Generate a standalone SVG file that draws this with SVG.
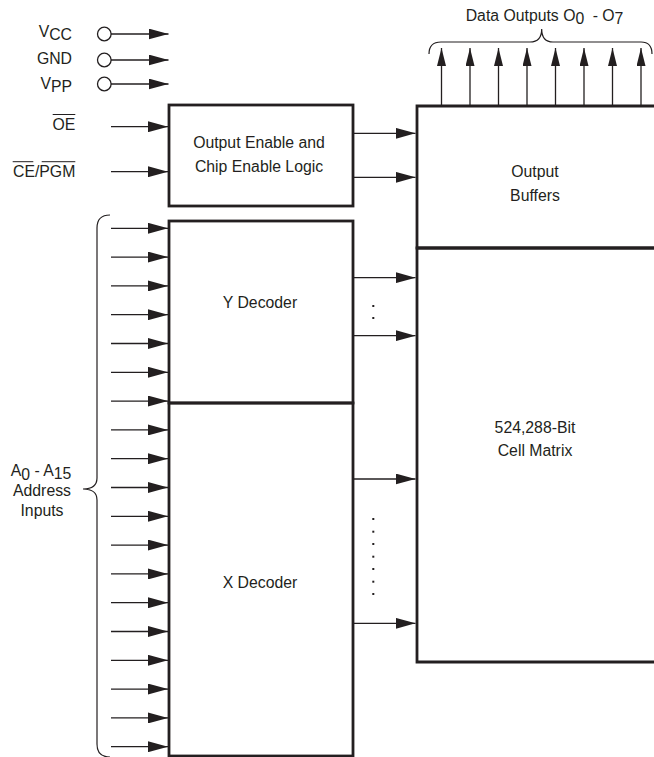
<svg xmlns="http://www.w3.org/2000/svg" width="654" height="757" viewBox="0 0 654 757">
<style>
text{font-family:"Liberation Sans",Arial,Helvetica,sans-serif;font-size:15.8px;fill:#231f20}
.box{fill:none;stroke:#231f20;stroke-width:2.8}
.ln{fill:none;stroke:#231f20;stroke-width:1.3}
.ar{fill:none;stroke:#231f20;stroke-width:1.3;marker-end:url(#ah)}
.au{fill:none;stroke:#231f20;stroke-width:1.3;marker-end:url(#ahv)}
.br{fill:none;stroke:#231f20;stroke-width:1.2}
.c{text-anchor:middle}
.e{text-anchor:end}
.dot{fill:#231f20}
</style>
<defs>
<marker id="ah" markerUnits="userSpaceOnUse" markerWidth="20" markerHeight="11" refX="20" refY="5.5" orient="auto"><path d="M0,0 L20,5.5 L0,11 z" fill="#231f20"/></marker>
<marker id="ahv" markerUnits="userSpaceOnUse" markerWidth="18" markerHeight="9" refX="18" refY="4.5" orient="auto"><path d="M0,0 L18,4.5 L0,9 z" fill="#231f20"/></marker>
</defs>
<rect width="654" height="757" fill="#fff"/>

<g id="power-labels">
<text class="e" x="72" y="37">V<tspan dy="3">CC</tspan></text>
<text class="e" x="72" y="64">GND</text>
<text class="e" x="72" y="89">V<tspan dy="3">PP</tspan></text>
<circle cx="104.3" cy="34" r="6.8" fill="#fff" stroke="#231f20" stroke-width="1.3"/>
<circle cx="104.3" cy="60" r="6.8" fill="#fff" stroke="#231f20" stroke-width="1.3"/>
<circle cx="104.3" cy="84" r="6.8" fill="#fff" stroke="#231f20" stroke-width="1.3"/>
</g>
<g id="control-labels">
<text class="e" x="75.3" y="130">OE</text>
<line x1="52.7" y1="114.5" x2="75.3" y2="114.5" stroke="#231f20" stroke-width="1"/>
<text class="e" x="75.3" y="176.7">CE/PGM</text>
<line x1="12.7" y1="161.7" x2="33.3" y2="161.7" stroke="#231f20" stroke-width="1"/>
<line x1="41.7" y1="161.7" x2="75.3" y2="161.7" stroke="#231f20" stroke-width="1"/>
</g>
<g id="address-label">
<text class="c" x="41" y="476">A<tspan dy="4">0</tspan><tspan dy="-4"> - A</tspan><tspan dy="3">15</tspan></text>
<text class="c" x="42" y="496">Address</text>
<text class="c" x="42" y="516">Inputs</text>
<path class="br" d="M110,215 Q97,215 97,228 L97,478 Q97,489 83,489 Q97,489 97,500 L97,744 Q97,757 110,757"/>
</g>
<g id="data-label">
<text x="465.7" y="21">Data Outputs O<tspan dy="3">0</tspan><tspan dy="-3" dx="4">  - O</tspan><tspan dy="3">7</tspan></text>
<path class="br" d="M429,54 Q429,42 441,42 L530,42 Q541.7,42 541.7,29 Q541.7,42 553,42 L641,42 Q652,42 652,54"/>
</g>

<g id="logic">
<rect class="box" x="169" y="105" width="184" height="101"/>
<text class="c" x="259" y="148.3">Output Enable and</text>
<text class="c" x="259" y="171.7">Chip Enable Logic</text>
</g>
<g id="ydecoder">
<rect class="box" x="169" y="221" width="184" height="182"/>
<text class="c" x="260" y="308">Y Decoder</text>
</g>
<g id="xdecoder">
<rect class="box" x="169" y="403" width="184" height="353"/>
<text class="c" x="260" y="588">X Decoder</text>
</g>
<g id="outbuffers">
<path class="box" d="M670,106 L417,106 L417,248 L670,248"/>
<text class="c" x="535" y="177">Output</text>
<text class="c" x="535" y="201">Buffers</text>
</g>
<g id="matrix">
<path class="box" d="M670,248 L417,248 L417,662 L670,662"/>
<text class="c" x="535" y="433">524,288-Bit</text>
<text class="c" x="535" y="456">Cell Matrix</text>
</g>

<g id="connectors">
<line class="ar" x1="111" y1="34" x2="168.5" y2="34"/>
<line class="ar" x1="111" y1="60" x2="168.5" y2="60"/>
<line class="ar" x1="111" y1="84" x2="168.5" y2="84"/>
<line class="ar" x1="111" y1="126.7" x2="168" y2="126.7"/>
<line class="ar" x1="111" y1="171.7" x2="168" y2="171.7"/>
<line class="ar" x1="353" y1="133.3" x2="415.5" y2="133.3"/>
<line class="ar" x1="353" y1="177.3" x2="415.5" y2="177.3"/>
<line class="ar" x1="353" y1="277.7" x2="415.5" y2="277.7"/>
<line class="ar" x1="353" y1="335.7" x2="415.5" y2="335.7"/>
<line class="ar" x1="353" y1="479" x2="415.5" y2="479"/>
<line class="ar" x1="353" y1="623.3" x2="415.5" y2="623.3"/>
<g id="address-arrows">
<line class="ar" x1="111" y1="228.3" x2="168" y2="228.3"/>
<line class="ar" x1="111" y1="257.1" x2="168" y2="257.1"/>
<line class="ar" x1="111" y1="285.9" x2="168" y2="285.9"/>
<line class="ar" x1="111" y1="314.7" x2="168" y2="314.7"/>
<line class="ar" x1="111" y1="343.5" x2="168" y2="343.5"/>
<line class="ar" x1="111" y1="372.3" x2="168" y2="372.3"/>
<line class="ar" x1="111" y1="401.1" x2="168" y2="401.1"/>
<line class="ar" x1="111" y1="429.9" x2="168" y2="429.9"/>
<line class="ar" x1="111" y1="458.7" x2="168" y2="458.7"/>
<line class="ar" x1="111" y1="487.5" x2="168" y2="487.5"/>
<line class="ar" x1="111" y1="516.3" x2="168" y2="516.3"/>
<line class="ar" x1="111" y1="545.1" x2="168" y2="545.1"/>
<line class="ar" x1="111" y1="573.9" x2="168" y2="573.9"/>
<line class="ar" x1="111" y1="602.7" x2="168" y2="602.7"/>
<line class="ar" x1="111" y1="631.5" x2="168" y2="631.5"/>
<line class="ar" x1="111" y1="660.3" x2="168" y2="660.3"/>
<line class="ar" x1="111" y1="689.1" x2="168" y2="689.1"/>
<line class="ar" x1="111" y1="717.9" x2="168" y2="717.9"/>
<line class="ar" x1="111" y1="746.7" x2="168" y2="746.7"/>
</g>
<g id="data-arrows">
<line class="au" x1="441.5" y1="106" x2="441.5" y2="48"/>
<line class="au" x1="470" y1="106" x2="470" y2="48"/>
<line class="au" x1="498.5" y1="106" x2="498.5" y2="48"/>
<line class="au" x1="527" y1="106" x2="527" y2="48"/>
<line class="au" x1="555.5" y1="106" x2="555.5" y2="48"/>
<line class="au" x1="584" y1="106" x2="584" y2="48"/>
<line class="au" x1="612.5" y1="106" x2="612.5" y2="48"/>
<line class="au" x1="641" y1="106" x2="641" y2="48"/>
</g>
<g id="dots">
<rect class="dot" x="372.3" y="305" width="2" height="2"/>
<rect class="dot" x="372.3" y="317" width="2" height="2"/>
<rect class="dot" x="372.3" y="518" width="2" height="2"/>
<rect class="dot" x="372.3" y="530.7" width="2" height="2"/>
<rect class="dot" x="372.3" y="543" width="2" height="2"/>
<rect class="dot" x="372.3" y="555.7" width="2" height="2"/>
<rect class="dot" x="372.3" y="568" width="2" height="2"/>
<rect class="dot" x="372.3" y="580.7" width="2" height="2"/>
<rect class="dot" x="372.3" y="593" width="2" height="2"/>
</g>
</g>
</svg>
